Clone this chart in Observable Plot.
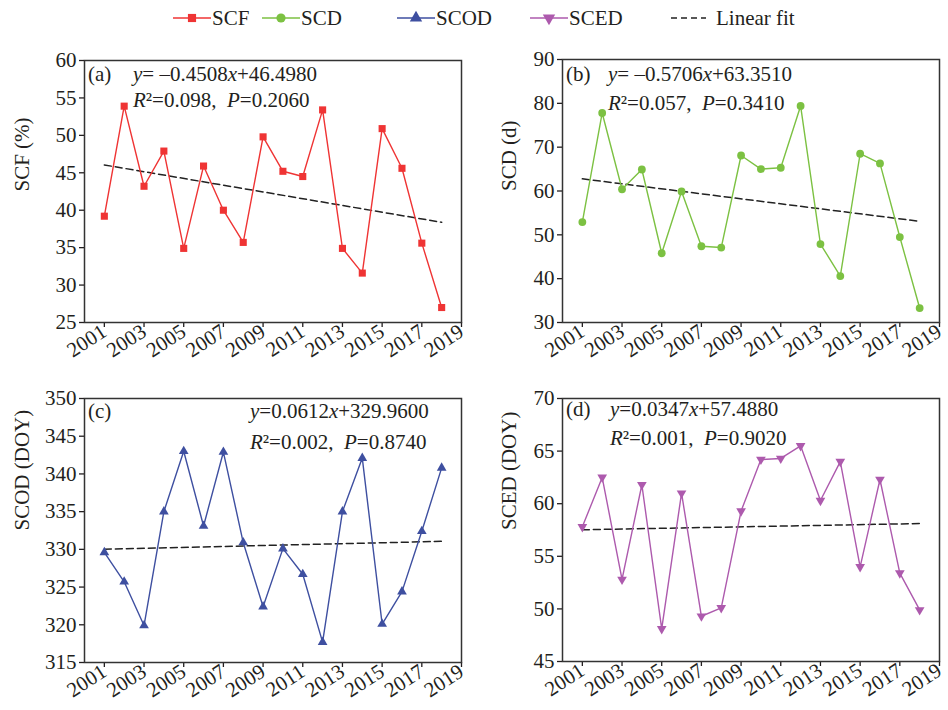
<!DOCTYPE html>
<html>
<head>
<meta charset="utf-8">
<script src="https://cdn.jsdelivr.net/npm/d3@7"></script>
<script src="https://cdn.jsdelivr.net/npm/@observablehq/plot@0.6"></script>
</head>
<body style="margin:0;padding:0;background:#fff;font-family:'Liberation Serif', 'DejaVu Serif', serif">
<div id="wrap" style="position:relative;width:948px;height:710px;overflow:hidden;color:#231f20;font-family:'Liberation Serif', 'DejaVu Serif', serif"></div>
<script>
// ---------------- data ----------------
const years = [2001,2002,2003,2004,2005,2006,2007,2008,2009,2010,2011,2012,2013,2014,2015,2016,2017,2018];
const scf  = [39.2,53.9,43.2,47.9,34.9,45.9,40.0,35.7,49.8,45.2,44.5,53.4,34.9,31.6,50.9,45.6,35.6,27.0];
const scd  = [52.9,77.8,60.4,64.9,45.8,59.9,47.4,47.1,68.1,65.0,65.3,79.4,47.9,40.6,68.5,66.3,49.5,33.3];
const scod = [329.6,325.7,319.9,335.0,343.0,333.1,342.9,330.9,322.4,330.1,326.7,317.7,335.0,342.1,320.1,324.4,332.4,340.8];
const sced = [57.8,62.5,52.8,61.8,48.1,61.0,49.3,50.1,59.3,64.2,64.3,65.5,60.3,64.0,54.0,62.3,53.4,49.9];
const yearTicks = [2001,2003,2005,2007,2009,2011,2013,2015,2017,2019];
const seriesNames = ["SCF","SCD","SCOD","SCED"];
const yLabels = ["SCF (%)","SCD (d)","SCOD (DOY)","SCED (DOY)"];
const panelTags = ["(a)","(b)","(c)","(d)"];
const fitSlopes = [-0.4508,-0.5706,0.0612,0.0347];
const fitIntercepts = [46.4980,63.3510,329.9600,57.4880];
const eqSlopeText = ["–0.4508","–0.5706","0.0612","0.0347"];
const eqInterceptText = ["46.4980","63.3510","329.9600","57.4880"];
const r2Text = ["0.098","0.057","0.002","0.001"];
const pText = ["0.2060","0.3410","0.8740","0.9020"];
const yDomains = [[25,60],[30,90],[315,350],[45,70]];
const yTickSets = [[25,30,35,40,45,50,55,60],[30,40,50,60,70,80,90],[315,320,325,330,335,340,345,350],[45,50,55,60,65,70]];
const legendLabels = ["SCF","SCD","SCOD","SCED","Linear fit"];

// ---------------- styles ----------------
const colors = ["#ef3434","#7cc142","#3e4fa0","#ad5aad"];
const symbols = ["square","circle","triangle","triangle"];
const symRot = [0,0,0,180];
const symR = [4,3.9,3.6,3.6];
const ink = "#231f20";
const FONT = "Liberation Serif";

const layout = [
  {left:0,   top:40,  height:340, mt:20, mb:58, ml:84, mr:13, labDx:-62,
   tag:[88,41], eq:[133,41], r2:[133,67]},
  {left:474, top:40,  height:340, mt:19, mb:58, ml:88, mr:9,  labDx:-53,
   tag:[92,41], eq:[134,41], r2:[134,70]},
  {left:0,   top:380, height:330, mt:18, mb:48, ml:84, mr:13, labDx:-62,
   tag:[88,38], eq:[250,38], r2:[250,69]},
  {left:474, top:380, height:330, mt:18, mb:49, ml:88, mr:9,  labDx:-53,
   tag:[92,36], eq:[136,36], r2:[136,65]}
];
const seriesValues = [scf, scd, scod, sced];

const wrap = document.getElementById("wrap");

seriesValues.forEach((vals, k) => {
  const L = layout[k];
  const data = years.map((yr, i) => ({year: yr, v: vals[i]}));
  const fit = [0, years.length - 1].map(i => ({year: years[i], v: fitIntercepts[k] + fitSlopes[k] * (i + 1)}));
  const plot = Plot.plot({
    width: 474, height: L.height,
    marginLeft: L.ml, marginRight: L.mr, marginTop: L.mt, marginBottom: L.mb,
    style: {fontFamily: FONT, fontSize: "21px", color: ink, background: "transparent", overflow: "visible"},
    x: {domain: [2000, 2019]},
    y: {domain: yDomains[k]},
    marks: [
      Plot.axisX({ticks: yearTicks, tickFormat: d => String(d), tickRotate: -33, tickSize: 5, tickPadding: 2, label: null, fontSize: 21, fontFamily: FONT, stroke: ink, strokeWidth: 1.3}),
      Plot.axisY({ticks: yTickSets[k], tickSize: 5, tickPadding: 3, label: null, fontSize: 21, fontFamily: FONT, stroke: ink, strokeWidth: 1.3}),
      Plot.line(fit, {x: "year", y: "v", stroke: "#222", strokeWidth: 1.5, strokeDasharray: "7,4"}),
      Plot.line(data, {x: "year", y: "v", stroke: colors[k], strokeWidth: 1.4}),
      Plot.dot(data, {x: "year", y: "v", symbol: symbols[k], fill: colors[k], stroke: "none", r: symR[k], rotate: symRot[k]}),
      Plot.frame({stroke: "#333", strokeWidth: 1.5}),
      Plot.text([yLabels[k]], {frameAnchor: "left", dx: L.labDx, rotate: -90, text: d => d, fontSize: 21, fontFamily: FONT, fill: ink})
    ]
  });
  const div = document.createElement("div");
  div.style.position = "absolute";
  div.style.left = L.left + "px";
  div.style.top = L.top + "px";
  div.appendChild(plot);
  wrap.appendChild(div);

  const svg = d3.select(plot);
  const g = svg.append("g").attr("font-size", 21).attr("font-family", FONT).attr("fill", ink).attr("text-anchor", "start");
  g.append("text").attr("x", L.tag[0]).attr("y", L.tag[1]).text(panelTags[k]);
  const eq = g.append("text").attr("x", L.eq[0]).attr("y", L.eq[1]);
  eq.append("tspan").attr("font-style", "italic").text("y");
  eq.append("tspan").text("=" + (fitSlopes[k] < 0 ? " " : "") + eqSlopeText[k]);
  eq.append("tspan").attr("font-style", "italic").text("x");
  eq.append("tspan").text("+" + eqInterceptText[k]);
  const r2 = g.append("text").attr("x", L.r2[0]).attr("y", L.r2[1]);
  r2.append("tspan").attr("font-style", "italic").text("R");
  r2.append("tspan").text("²=" + r2Text[k] + ",\u00a0\u00a0");
  r2.append("tspan").attr("font-style", "italic").text("P");
  r2.append("tspan").text("=" + pText[k]);
});

// ---------------- legend ----------------
const legLefts = [172, 261, 396, 529, 670];
legendLabels.forEach((lab, k) => {
  const item = document.createElement("div");
  item.style.position = "absolute";
  item.style.top = "4px";
  item.style.height = "28px";
  item.style.display = "flex";
  item.style.alignItems = "center";
  item.style.fontSize = "21px";
  item.style.fontFamily = FONT;
  item.style.left = legLefts[k] + "px";
  const s = d3.create("svg").attr("width", 40).attr("height", 28).style("display", "block");
  if (k < 4) {
    s.append("line").attr("x1", 1).attr("x2", 39).attr("y1", 14).attr("y2", 14)
      .attr("stroke", colors[k]).attr("stroke-width", 1.6);
    const sym = symbols[k] === "square" ? d3.symbolSquare : symbols[k] === "circle" ? d3.symbolCircle : d3.symbolTriangle;
    s.append("path").attr("d", d3.symbol(sym, Math.PI * 4.6 * 4.6)())
      .attr("transform", `translate(20,14) rotate(${symRot[k]})`).attr("fill", colors[k]);
  } else {
    s.append("line").attr("x1", 1).attr("x2", 36).attr("y1", 14).attr("y2", 14)
      .attr("stroke", "#222").attr("stroke-width", 1.5).attr("stroke-dasharray", "6,4");
  }
  item.appendChild(s.node());
  const t = document.createElement("span");
  t.textContent = lab;
  t.style.fontFamily = FONT;
  t.style.marginLeft = k < 4 ? "0px" : "6px";
  item.appendChild(t);
  wrap.appendChild(item);
});
</script>
</body>
</html>
